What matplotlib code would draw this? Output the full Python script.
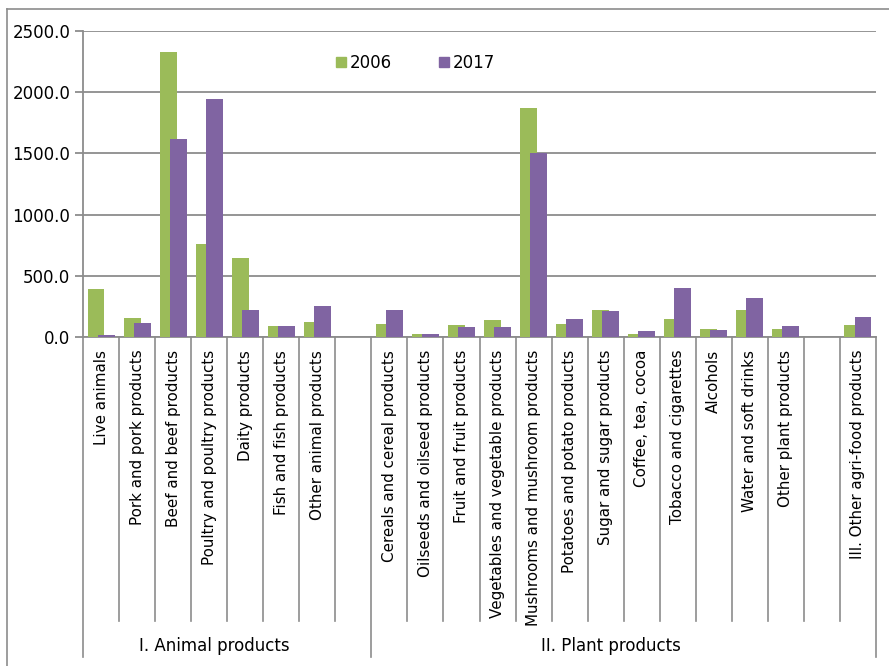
import matplotlib
matplotlib.use("Agg")
import matplotlib.pyplot as plt
from matplotlib.lines import Line2D
from matplotlib.patches import Patch
import numpy as np

# ---- data ----
animal_labels = ["Live animals", "Pork and pork products", "Beef and beef products",
                 "Poultry and poultry products", "Daity products", "Fish and fish products",
                 "Other animal products"]
animal_2006 = [394, 157, 2328, 761, 647, 90, 125]
animal_2017 = [19, 117, 1618, 1942, 223, 95, 255]

plant_labels = ["Cereals and cereal products", "Oilseeds and oilseed products",
                "Fruit and fruit products", "Vegetables and vegetable products",
                "Mushrooms and mushroom products", "Potatoes and potato products",
                "Sugar and sugar products", "Coffee, tea, cocoa", "Tobacco and cigarettes",
                "Alcohols", "Water and soft drinks", "Other plant products"]
plant_2006 = [108, 30, 98, 141, 1869, 108, 223, 30, 147, 68, 223, 65]
plant_2017 = [223, 30, 82, 87, 1498, 149, 215, 51, 402, 60, 321, 92]

other_labels = ["III. Other agri-food products"]
other_2006 = [100]
other_2017 = [166]

group_names = ["I. Animal products", "II. Plant products"]
series_names = ["2006", "2017"]
yticks = [0, 500, 1000, 1500, 2000, 2500]

# ---- assemble slots (blank slot after animal and after plant groups) ----
labels = animal_labels + [""] + plant_labels + [""] + other_labels
v2006 = animal_2006 + [np.nan] + plant_2006 + [np.nan] + other_2006
v2017 = animal_2017 + [np.nan] + plant_2017 + [np.nan] + other_2017
n = len(labels)
x = np.arange(n)

GREEN = "#9BBB59"
PURPLE = "#8064A2"
GRID = "#8C8C8C"

plt.rcParams["font.family"] = ["DejaVu Sans"]

fig = plt.figure(figsize=(8.89, 6.66), dpi=100)
W, H = 889, 666
left, right = 83 / W, 876 / W
bottom, top = 1 - 337.3 / H, 1 - 30.5 / H
ax = fig.add_axes([left, bottom, right - left, top - bottom])

bw = 0.47
off = 0.139
ax.bar(x - off, v2006, width=bw, color=GREEN, zorder=3, label=series_names[0])
ax.bar(x + off, v2017, width=bw, color=PURPLE, zorder=4, label=series_names[1])

ax.set_xlim(-0.5, n - 0.5)
ax.set_ylim(0, 2500)
ax.set_yticks(yticks)
ax.set_yticklabels([f"{v:.1f}" for v in yticks], fontsize=12)
ax.yaxis.grid(True, color=GRID, linewidth=1.3, zorder=0)
ax.set_axisbelow(True)
for s in ["top", "right"]:
    ax.spines[s].set_visible(False)
for s in ["left", "bottom"]:
    ax.spines[s].set_color(GRID)
    ax.spines[s].set_linewidth(1.3)
ax.tick_params(axis="y", length=6, width=1.3, color=GRID, pad=3)

ax.set_xticks(x)
ax.set_xticklabels(labels, rotation=90, va="top", ha="center", fontsize=10.9)
ax.tick_params(axis="x", length=0, pad=9)

# separators
trans = ax.get_xaxis_transform()
pxh = 337.3 - 30.5
y_short = -(621 - 337.3) / pxh
y_long = -(657 - 337.3) / pxh
group_bounds = [-0.5, 7.5, n - 0.5]
for b in np.arange(-0.5, n, 1.0):
    ylow = y_long if any(abs(b - g) < 1e-6 for g in group_bounds) else y_short
    ax.add_line(Line2D([b, b], [0, ylow], transform=trans, color=GRID,
                       linewidth=1.2, clip_on=False))

# group labels
y_grp = -(646 - 337.3) / pxh
centers = [(group_bounds[0] + group_bounds[1]) / 2, (group_bounds[1] + group_bounds[2]) / 2]
for name, c in zip(group_names, centers):
    ax.text(c - 0.35, y_grp, name, transform=trans, ha="center", va="center", fontsize=12)

# legend
handles = [Patch(color=GREEN), Patch(color=PURPLE)]
leg = ax.legend(handles, series_names, ncol=2, frameon=False, fontsize=12,
                loc="center left", bbox_to_anchor=((336 - 83) / (876 - 83), (337.3 - 63) / pxh),
                handlelength=0.6, handleheight=0.6, handletextpad=0.25, columnspacing=2.8,
                borderaxespad=0, borderpad=0)

# outer frame (left and top edges)
fig.add_artist(Line2D([7 / W, 7 / W], [0, 1 - 9 / H], transform=fig.transFigure, color=GRID, linewidth=1.2))
fig.add_artist(Line2D([7 / W, 1], [1 - 9 / H, 1 - 9 / H], transform=fig.transFigure, color=GRID, linewidth=1.2))

fig.savefig("out.png", dpi=100)
